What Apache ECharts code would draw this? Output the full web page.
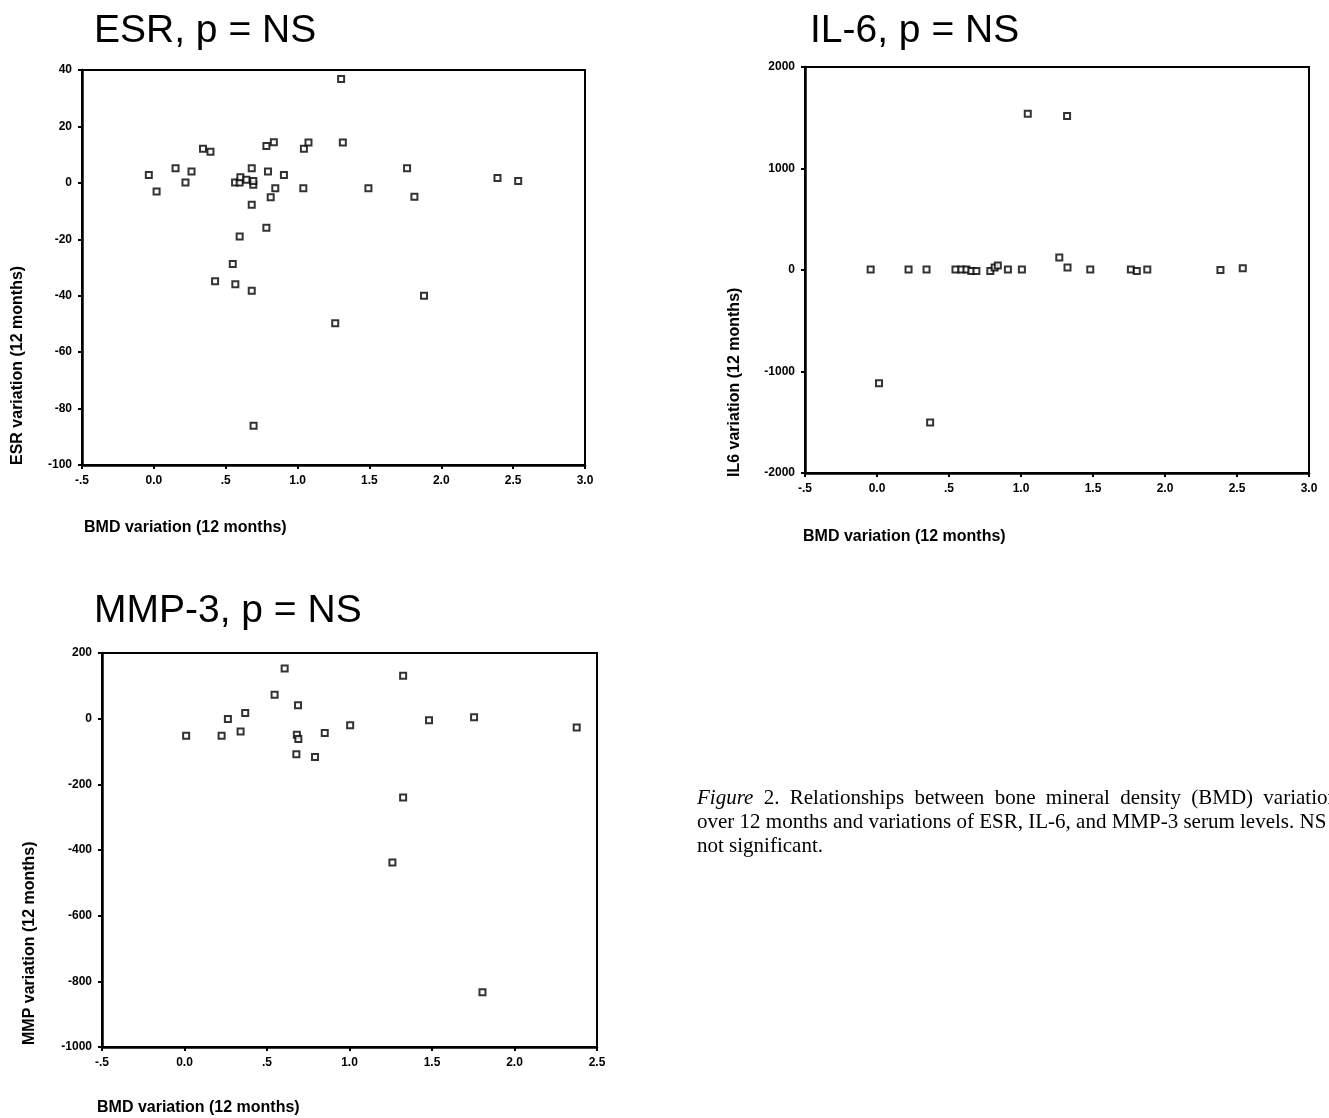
<!DOCTYPE html>
<html>
<head>
<meta charset="utf-8">
<script src="https://cdn.jsdelivr.net/npm/echarts@6/dist/echarts.min.js"></script>
<style>
html,body{margin:0;padding:0;background:#fff;}
#c{width:1329px;height:1118px;}
</style>
</head>
<body>
<div id="c"></div>
<script>
// Tick labels for the BMD axis (SPSS style: leading zero dropped for |x| < 1)
const bmdTickLabels = ['-.5', '0.0', '.5', '1.0', '1.5', '2.0', '2.5', '3.0'];

// ESR panel
const esrBmd = [-0.035, 0.019, 0.151, 0.220, 0.262, 0.342, 0.394, 0.426, 0.549, 0.565, 0.567,
  0.597, 0.602, 0.597, 0.644, 0.681, 0.692, 0.692, 0.681, 0.681, 0.694, 0.783, 0.794, 0.783,
  0.813, 0.835, 0.845, 0.905, 1.040, 1.044, 1.076, 1.262, 1.303, 1.315, 1.493, 1.762, 1.813,
  1.880, 2.391, 2.535];
const esrVar = [2.8, -3.1, 5.2, 0.1, 4.0, 12.1, 11.0, -34.9, -28.8, 0.1, -35.9,
  0.1, 2.0, -19.0, 1.1, 5.2, -0.7, 0.7, -7.8, -38.2, -86.1, 13.1, 4.0, -15.9,
  -5.1, 14.4, -1.9, 2.8, -1.9, 12.1, 14.3, -49.8, 36.8, 14.3, -1.9, 5.2, -4.9,
  -40.0, 1.7, 0.7];

// IL-6 panel
const il6Bmd = [-0.044, 0.219, 0.344, 0.545, 0.586, 0.621, 0.655, 0.690, 0.787, 0.817, 0.839,
  0.909, 1.006, 1.047, 1.320, 1.266, 1.323, 1.481, 1.763, 1.804, 1.877, 2.385, 2.540,
  0.014, 0.369];
const il6Var = [5, 5, 5, 5, 5, 5, -10, -10, -10, 25, 45,
  5, 5, 1540, 1517, 122, 24, 5, 5, -10, 5, 0, 17,
  -1116, -1503];

// MMP-3 panel
const mmpBmd = [0.010, 0.225, 0.263, 0.340, 0.368, 0.546, 0.607, 0.688, 0.681, 0.690, 0.678,
  0.791, 0.850, 1.004, 1.325, 1.325, 1.260, 1.482, 1.755, 1.806, 2.377];
const mmpVar = [-52, -52, -1, -39, 17, 73, 153, 41, -49, -62, -108,
  -117, -44, -20, 131, -240, -438, -5, 4, -833, -27];

const panelTitles = ['ESR, p = NS', 'IL-6, p = NS', 'MMP-3, p = NS'];
const yNames = ['ESR variation (12 months)', 'IL6 variation (12 months)', 'MMP variation (12 months)'];
const xName = 'BMD variation (12 months)';

const captionLine1 = ['Figure', '2.', 'Relationships', 'between', 'bone', 'mineral', 'density', '(BMD)', 'variation'];
const captionLine2 = 'over 12 months and variations of ESR, IL-6, and MMP-3 serum levels. NS =';
const captionLine3 = 'not significant.';

const SANS = '"Liberation Sans", Arial, Helvetica, sans-serif';
const SERIF = '"Liberation Serif", "Times New Roman", serif';

const chart = echarts.init(document.getElementById('c'), null, {renderer: 'canvas'});

const grids = [
  {left: 82, top: 70, width: 503, height: 395},
  {left: 805, top: 67, width: 504, height: 406},
  {left: 102, top: 653, width: 495, height: 394}
];

function bmdLabel(v) {
  const i = Math.round((v + 0.5) / 0.5);
  return bmdTickLabels[i] !== undefined ? bmdTickLabels[i] : '';
}

function makeX(gi, max) {
  return {
    type: 'value', gridIndex: gi, min: -0.5, max: max, interval: 0.5,
    axisLine: {onZero: false, lineStyle: {color: '#000', width: 2.5}},
    axisTick: {show: true, inside: false, length: 4, lineStyle: {color: '#000', width: 2}},
    splitLine: {show: false},
    axisLabel: {formatter: bmdLabel, color: '#000', fontSize: 12, fontWeight: 'bold', fontFamily: SANS, margin: 10}
  };
}
function makeY(gi, min, max, interval) {
  return {
    type: 'value', gridIndex: gi, min: min, max: max, interval: interval,
    axisLine: {onZero: false, lineStyle: {color: '#000', width: 2.5}},
    axisTick: {show: true, inside: false, length: 4, lineStyle: {color: '#000', width: 2}},
    splitLine: {show: false},
    axisLabel: {formatter: v => String(v), color: '#000', fontSize: 12, fontWeight: 'bold', fontFamily: SANS, margin: 10}
  };
}

function pairs(xs, ys) { return xs.map((x, i) => [x, ys[i]]); }

const markerStyle = {color: '#fff', borderColor: '#000', borderWidth: 2};

// Caption: first line is justified between the text block edges
const capLeft = 697, capRight = 1338, capFont = 21;
const measureCtx = document.createElement('canvas').getContext('2d');
function wordWidth(w, italic) {
  measureCtx.font = (italic ? 'italic ' : '') + capFont + 'px ' + SERIF;
  return measureCtx.measureText(w).width;
}
const widths = captionLine1.map((w, i) => wordWidth(w, i === 0));
const totalW = widths.reduce((a, b) => a + b, 0);
const gap = (capRight - capLeft - totalW) / (captionLine1.length - 1);
const captionElems = [];
let cx = capLeft;
captionLine1.forEach((w, i) => {
  captionElems.push({
    type: 'text', x: cx, y: 798,
    style: {text: w, fill: '#000', font: (i === 0 ? 'italic ' : '') + capFont + 'px ' + SERIF,
      textAlign: 'left', textVerticalAlign: 'middle'}
  });
  cx += widths[i] + gap;
});
captionElems.push({type: 'text', x: capLeft, y: 822,
  style: {text: captionLine2, fill: '#000', font: capFont + 'px ' + SERIF, textAlign: 'left', textVerticalAlign: 'middle'}});
captionElems.push({type: 'text', x: capLeft, y: 846,
  style: {text: captionLine3, fill: '#000', font: capFont + 'px ' + SERIF, textAlign: 'left', textVerticalAlign: 'middle'}});

const axisNameFont = 'bold 16px ' + SANS;
const nameElems = [
  {type: 'text', x: 18, y: 465, rotation: Math.PI / 2, style: {text: yNames[0], fill: '#000', font: axisNameFont, textAlign: 'left', textVerticalAlign: 'middle'}},
  {type: 'text', x: 735, y: 477, rotation: Math.PI / 2, style: {text: yNames[1], fill: '#000', font: axisNameFont, textAlign: 'left', textVerticalAlign: 'middle'}},
  {type: 'text', x: 30, y: 1045, rotation: Math.PI / 2, style: {text: yNames[2], fill: '#000', font: axisNameFont, textAlign: 'left', textVerticalAlign: 'middle'}},
  {type: 'text', x: 84, y: 528, style: {text: xName, fill: '#000', font: axisNameFont, textAlign: 'left', textVerticalAlign: 'middle'}},
  {type: 'text', x: 803, y: 537, style: {text: xName, fill: '#000', font: axisNameFont, textAlign: 'left', textVerticalAlign: 'middle'}},
  {type: 'text', x: 97, y: 1108, style: {text: xName, fill: '#000', font: axisNameFont, textAlign: 'left', textVerticalAlign: 'middle'}}
];

const titleStyle = {color: '#000', fontSize: 39, fontWeight: 'normal', fontFamily: SANS};

chart.setOption({
  animation: false,
  backgroundColor: '#fff',
  title: [
    {text: panelTitles[0], left: 89, top: 7, textStyle: titleStyle},
    {text: panelTitles[1], left: 805, top: 7, textStyle: titleStyle},
    {text: panelTitles[2], left: 89, top: 587, textStyle: titleStyle}
  ],
  grid: grids.map(g => Object.assign({show: true, borderColor: '#000', borderWidth: 2, backgroundColor: 'transparent'}, g)),
  xAxis: [makeX(0, 3), makeX(1, 3), makeX(2, 2.5)],
  yAxis: [makeY(0, -100, 40, 20), makeY(1, -2000, 2000, 1000), makeY(2, -1000, 200, 200)],
  series: [
    {type: 'scatter', xAxisIndex: 0, yAxisIndex: 0, symbol: 'rect', symbolSize: 6, itemStyle: markerStyle, data: pairs(esrBmd, esrVar)},
    {type: 'scatter', xAxisIndex: 1, yAxisIndex: 1, symbol: 'rect', symbolSize: 6, itemStyle: markerStyle, data: pairs(il6Bmd, il6Var)},
    {type: 'scatter', xAxisIndex: 2, yAxisIndex: 2, symbol: 'rect', symbolSize: 6, itemStyle: markerStyle, data: pairs(mmpBmd, mmpVar)}
  ],
  graphic: nameElems.concat(captionElems)
});
</script>
</body>
</html>
